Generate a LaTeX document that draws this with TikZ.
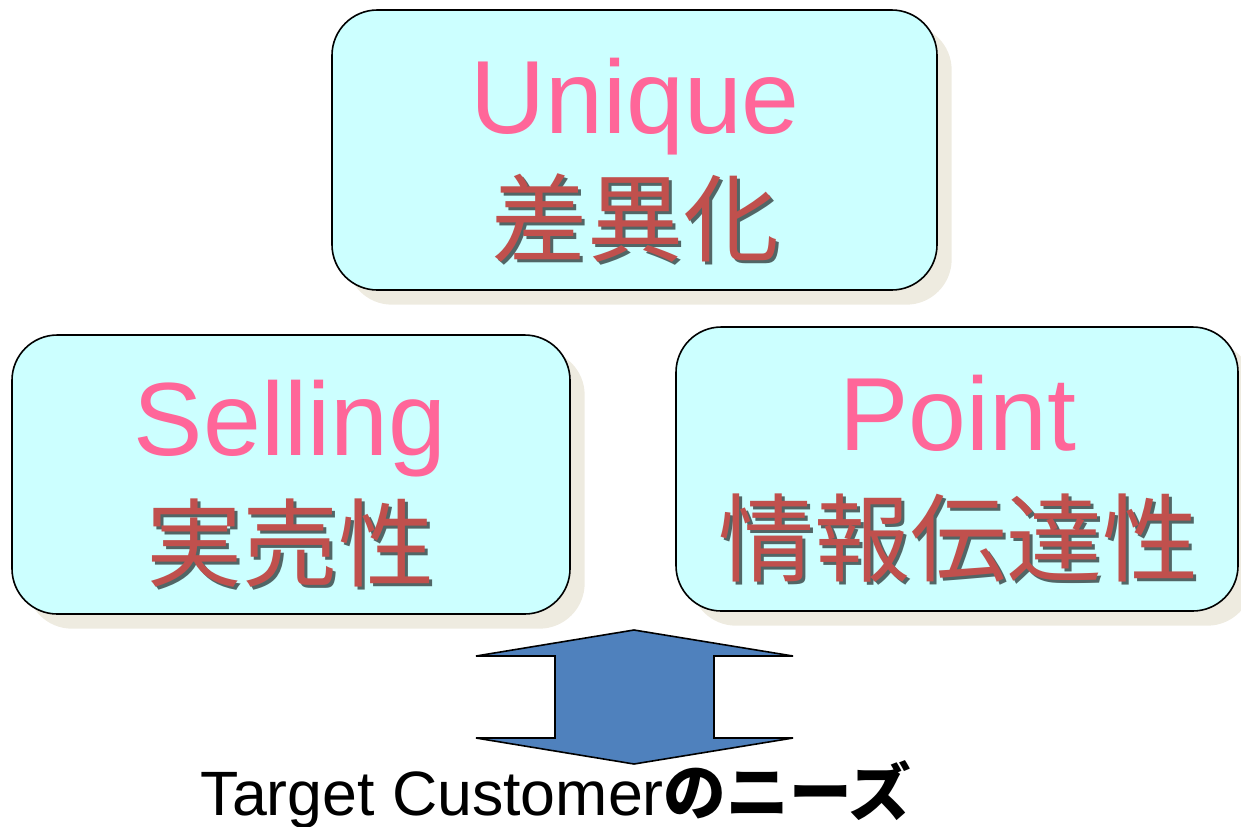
\documentclass[tikz,border=0pt]{standalone}
\usepackage{fontspec}
\setmainfont{Liberation Sans}
\newfontfamily\jp{Noto Sans CJK JP}
\usetikzlibrary{shadows}
\definecolor{boxfill}{HTML}{CCFFFF}
\definecolor{shadowc}{HTML}{EEEBE0}
\definecolor{pinktxt}{HTML}{FF6699}
\definecolor{redtxt}{HTML}{C0504D}
\definecolor{arrowblue}{HTML}{4F81BD}
\begin{document}
\begin{tikzpicture}[x=0.75pt,y=-0.75pt,
  card/.style={draw=black, line width=1.2pt, fill=boxfill, rounded corners=34pt,
    drop shadow={shadow xshift=11pt, shadow yshift=-11pt, fill=shadowc, opacity=1}},
  latin/.style={font=\fontsize{78}{78}\selectfont, text=pinktxt, inner sep=0, anchor=base},
  cjk/.style={font=\jp\fontsize{72}{72}\selectfont, text=redtxt, inner sep=0},
  cjkshadow/.style={font=\jp\fontsize{72}{72}\selectfont, text=black, opacity=0.6, inner sep=0},
  bigarrow/.style={draw=black, line width=1.2pt, fill=arrowblue, line join=miter},
  caption/.style={font=\fontsize{47}{47}\selectfont, text=black, inner sep=0, anchor=base}]
\useasboundingbox (0,0) rectangle (1241,826);
% boxes
\node[card, minimum width=453.75pt, minimum height=210pt] (bu) at (634.5,150) {};
\node[card, minimum width=418.5pt, minimum height=209.25pt] (bs) at (291,474.5) {};
\node[card, minimum width=421.5pt, minimum height=213pt] (bp) at (957,469) {};
% texts
\node[latin] (tu) at (635,133) {Unique};
\node[cjkshadow] (su) at (638,221) {差異化};
\node[cjk] (ju) at (635,218) {差異化};
\node[latin] (ts) at (290,455) {Selling};
\node[cjkshadow] (ss) at (293,546) {実売性};
\node[cjk] (js) at (290,543) {実売性};
\node[latin] (tp) at (958,450) {Point};
\node[cjkshadow] (sp) at (961,541) {情報伝達性};
\node[cjk] (jp) at (958,538) {情報伝達性};
% double arrow
\draw[bigarrow] (634,630) -- (793,656) -- (714,656) -- (714,738) -- (793,738) -- (634,764)
  -- (476,738) -- (555,738) -- (555,656) -- (476,656) -- cycle;
% caption
\node[caption] (cap) at (556,815) {Target Customer{\jp\bfseries のニーズ}};
\end{tikzpicture}
\end{document}
